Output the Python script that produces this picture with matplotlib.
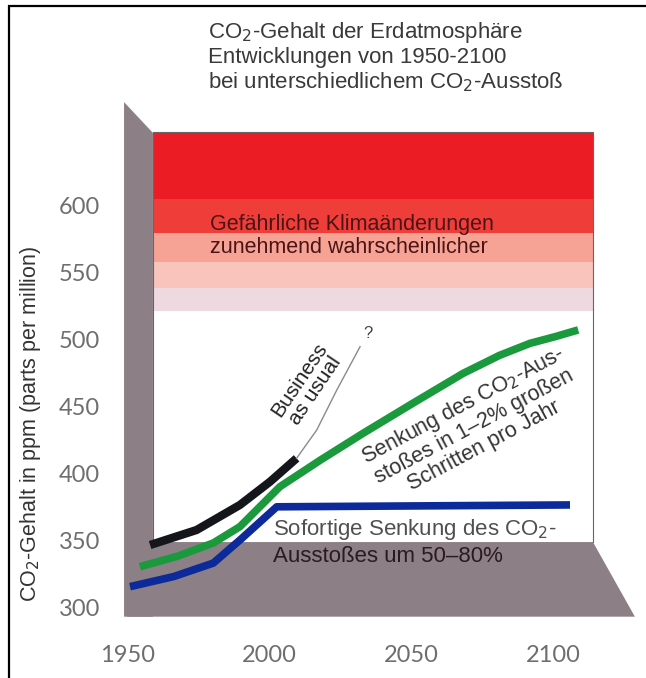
import numpy as np
import matplotlib
matplotlib.use("Agg")
import matplotlib.pyplot as plt

# CO2 scenarios (year, ppm)
bau_years = [1957.8, 1974.2, 1989.5, 2000.1, 2009.5]
bau_ppm = [348.5, 359.7, 378.4, 395.7, 413.2]
bau_ext_years = [2009.5, 2016.6, 2023.7, 2031.9]
bau_ext_ppm = [413.2, 434.3, 464.2, 496.5]

step_years = [1954.2, 1967.3, 1980.1, 1989.5, 2003.6, 2018, 2033, 2051.1,
              2068.3, 2081.1, 2091.9, 2100.8, 2108.9]
step_ppm = [332.3, 340, 350, 362.2, 392, 412, 431.9, 455, 476.6, 490, 499,
            504, 509]

cut_years = [1950.7, 1966.2, 1980.1, 1989.5, 2002.5, 2106]
cut_ppm = [317.4, 325, 335, 352.2, 377, 378.4]

y_ticks = [300, 350, 400, 450, 500, 550, 600]
x_ticks = [1950, 2000, 2050, 2100]

# warning bands on the back wall (ppm bounds, colour)
band_bounds = [657, 607, 581, 560, 540, 523]
band_colors = ['#ec1c24', '#ef3e3a', '#f6a294', '#f8c4bb', '#eed9e1']

# box geometry in data units
panel_x = [1958.8, 2114.1]
panel_y = [350.7, 657]
wall_x = [1948.6, 1958.8, 1958.8, 1948.6]
wall_y = [679, 656, 295, 295]
floor_x = [1949.6, 2128.9, 2114.1, 1958.8]
floor_y = [295, 295, 350.7, 350.7]

box_gray = '#8d7f86'
font = 'Liberation Sans'

fig = plt.figure(figsize=(6.46, 6.78), dpi=100)
ax = fig.add_axes([0, 0, 1, 1])
ax.set_xlim(1904.82, 2132.82)
ax.set_ylim(249.25, 755.2)
ax.axis('off')

# frame (left and top only visible)
ax.plot([0.014, 0.014, 1.0], [0.0, 0.991, 0.991], color='black', lw=1.6,
        transform=ax.transAxes, solid_joinstyle='miter')

# back panel
ax.fill_between(panel_x, panel_y[0], panel_y[1], color='white', zorder=1)
for i, c in enumerate(band_colors):
    ax.fill_between(panel_x, band_bounds[i + 1], band_bounds[i], color=c,
                    lw=0, zorder=2)
ax.plot([panel_x[0], panel_x[0], panel_x[1], panel_x[1]],
        [panel_y[0], panel_y[1], panel_y[1], panel_y[0]],
        color='#6a6468', lw=0.8, zorder=3)

# side wall and floor
ax.fill(wall_x, wall_y, color=box_gray, lw=0, zorder=2)
ax.fill(floor_x, floor_y, color=box_gray, lw=0, zorder=2)

# scenario lines
ax.plot(step_years, step_ppm, color='#1a9a3c', lw=5.5, zorder=5,
        solid_capstyle='butt', solid_joinstyle='round')
ax.plot(cut_years, cut_ppm, color='#0d2a9a', lw=5.5, zorder=6,
        solid_capstyle='butt', solid_joinstyle='round')
ax.plot(bau_years, bau_ppm, color='#15161c', lw=6, zorder=7,
        solid_capstyle='butt', solid_joinstyle='round')
ax.plot(bau_ext_years, bau_ext_ppm, color='#8a8a8a', lw=1.0, zorder=7)

# tick labels
for v in y_ticks:
    ax.text(1940.1, v, str(v), ha='right', va='center', fontsize=17,
            color='#6e6e6e', family='Lato')
for v in x_ticks:
    ax.text(v, 266.4, str(v), ha='center', va='center', fontsize=17,
            color='#6e6e6e', family='Lato')

ax.text(0.047, 0.375, 'CO$_2$-Gehalt in ppm (parts per million)', rotation=90,
        ha='center', va='center', fontsize=15.5, color='#333333',
        family=font, transform=ax.transAxes)

# title
ax.text(0.322, 0.970, 'CO$_2$-Gehalt der Erdatmosphäre\nEntwicklungen von 1950-2100\n'
        'bei unterschiedlichem CO$_2$-Ausstoß', ha='left', va='top',
        fontsize=16, color='#3a3a3a', family=font,
        linespacing=1.12, transform=ax.transAxes)

# annotations
ax.text(1978.9, 579, 'Gefährliche Klimaänderungen\nzunehmend wahrscheinlicher',
        ha='left', va='center', fontsize=15.5, color='#4a1416',
        family=font, linespacing=1.15, zorder=8)
ax.text(2013.2, 467.5, 'Business\nas usual', rotation=56, ha='center',
        va='center', fontsize=15, color='#222222', family=font,
        linespacing=1.0, zorder=8)
ax.text(2034.7, 506.7, '?', ha='center', va='center', fontsize=12,
        color='#444444', family=font, zorder=8)
ax.text(2071.8, 438, 'Senkung des CO$_2$-Aus-\nstoßes in 1–2% großen\nSchritten pro Jahr',
        rotation=28, ha='center', va='center', fontsize=15.5,
        color='#333333', family=font, linespacing=1.05, zorder=8)
ax.text(2001.2, 359.7, 'Sofortige Senkung des CO$_2$-', ha='left', va='center',
        fontsize=16, color='#505050', family=font, zorder=8)
ax.text(2001.2, 339.6, 'Ausstoßes um 50–80%', ha='left', va='center',
        fontsize=16, color='#2a1a22', family=font, zorder=8)

fig.savefig('out.png', dpi=100)
